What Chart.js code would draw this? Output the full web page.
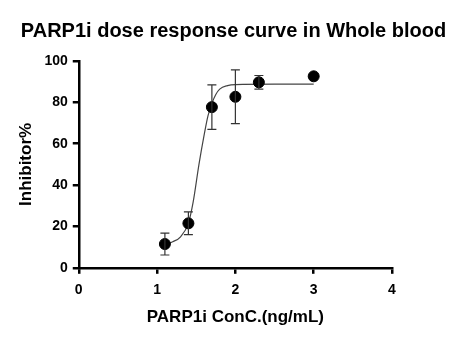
<!DOCTYPE html>
<html>
<head>
<meta charset="utf-8">
<script src="https://cdn.jsdelivr.net/npm/chart.js@4"></script>
<style>
  html, body { margin: 0; padding: 0; background: #fff; }
  #wrap { width: 459px; height: 340px; }
</style>
</head>
<body>
<div id="wrap"><canvas id="doseChart" width="459" height="340"></canvas></div>
<script>
// measured points (mean +/- SD)
const doseX = [1.1, 1.4, 1.7, 2.0, 2.3, 3.0];
const meanY = [11.5, 21.5, 77.7, 82.7, 89.7, 92.6];
const sdY = [5.3, 5.5, 10.8, 13.0, 3.3, 0];

const fitX = [1.1, 1.2, 1.3, 1.4, 1.46, 1.535, 1.6, 1.65, 1.7, 1.75, 1.8, 1.9, 2.0, 2.5, 3.0];
const fitY = [11.2, 12.6, 15.0, 21.6, 31.6, 50.0, 64.0, 73.5, 79.5, 83.8, 86.4, 88.1, 88.6, 88.8, 88.8];

const xTicks = [0, 1, 2, 3, 4];
const yTicks = [0, 20, 40, 60, 80, 100];

const FONT = "'Liberation Sans', Arial, sans-serif";

// draws the SD whiskers with caps
const errorBars = {
  id: 'errorBars',
  afterDatasetsDraw(chart) {
    const ctx = chart.ctx;
    const xs = chart.scales.x, ys = chart.scales.y;
    ctx.save();
    ctx.strokeStyle = '#333';
    ctx.lineWidth = 1.2;
    doseX.forEach((x, i) => {
      if (!sdY[i]) return;
      const px = xs.getPixelForValue(x);
      const top = ys.getPixelForValue(meanY[i] + sdY[i]);
      const bot = ys.getPixelForValue(meanY[i] - sdY[i]);
      ctx.beginPath();
      ctx.moveTo(px, top); ctx.lineTo(px, bot);
      ctx.moveTo(px - 4.5, top); ctx.lineTo(px + 4.5, top);
      ctx.moveTo(px - 4.5, bot); ctx.lineTo(px + 4.5, bot);
      ctx.stroke();
    });
    ctx.restore();
  }
};

const ctx = document.getElementById('doseChart').getContext('2d');
new Chart(ctx, {
  type: 'scatter',
  data: {
    datasets: [
      {
        label: 'fit',
        data: fitX.map((x, i) => ({ x: x, y: fitY[i] })),
        showLine: true,
        borderColor: '#444',
        borderWidth: 1.2,
        pointRadius: 0,
        cubicInterpolationMode: 'monotone',
        order: 2
      },
      {
        label: 'Inhibitor%',
        data: doseX.map((x, i) => ({ x: x, y: meanY[i] })),
        backgroundColor: '#000',
        borderColor: '#000',
        pointRadius: 5.5,
        order: 1
      }
    ]
  },
  options: {
    responsive: false,
    animation: false,
    layout: { padding: { left: 12, right: 4, top: 9, bottom: 8 } },
    plugins: {
      legend: { display: false },
      tooltip: { enabled: false },
      title: {
        display: true,
        text: 'PARP1i dose response curve in Whole blood',
        color: '#000',
        font: { family: FONT, size: 20, weight: 'bold' },
        padding: { top: 10, bottom: 18 }
      }
    },
    scales: {
      x: {
        type: 'linear',
        min: 0, max: 4,
        afterBuildTicks: s => { s.ticks = xTicks.map(v => ({ value: v })); },
        border: { display: true, color: '#000', width: 2.5 },
        grid: { drawOnChartArea: false, drawTicks: true, tickLength: 6, color: '#000', lineWidth: 2.5 },
        ticks: { color: '#000', padding: 8, font: { family: FONT, size: 14, weight: 'bold' } },
        title: {
          display: true, text: 'PARP1i ConC.(ng/mL)', color: '#000',
          font: { family: FONT, size: 17, weight: 'bold' }, padding: { top: 1 }
        }
      },
      y: {
        type: 'linear',
        min: 0, max: 100,
        afterBuildTicks: s => { s.ticks = yTicks.map(v => ({ value: v })); },
        border: { display: true, color: '#000', width: 2.5 },
        grid: { drawOnChartArea: false, drawTicks: true, tickLength: 6, color: '#000', lineWidth: 2.5 },
        ticks: { color: '#000', padding: 5, font: { family: FONT, size: 14, weight: 'bold' } },
        title: {
          display: true, text: 'Inhibitor%', color: '#000',
          font: { family: FONT, size: 17, weight: 'bold' }, padding: { bottom: 3 }
        }
      },
      // empty right-hand axis, only keeps white space right of the plot
      spacer: {
        type: 'linear',
        position: 'right',
        display: true,
        border: { display: false },
        grid: { display: false },
        ticks: { display: false },
        afterFit: s => { s.width = 63; }
      }
    }
  },
  plugins: [errorBars]
});
</script>
</body>
</html>
